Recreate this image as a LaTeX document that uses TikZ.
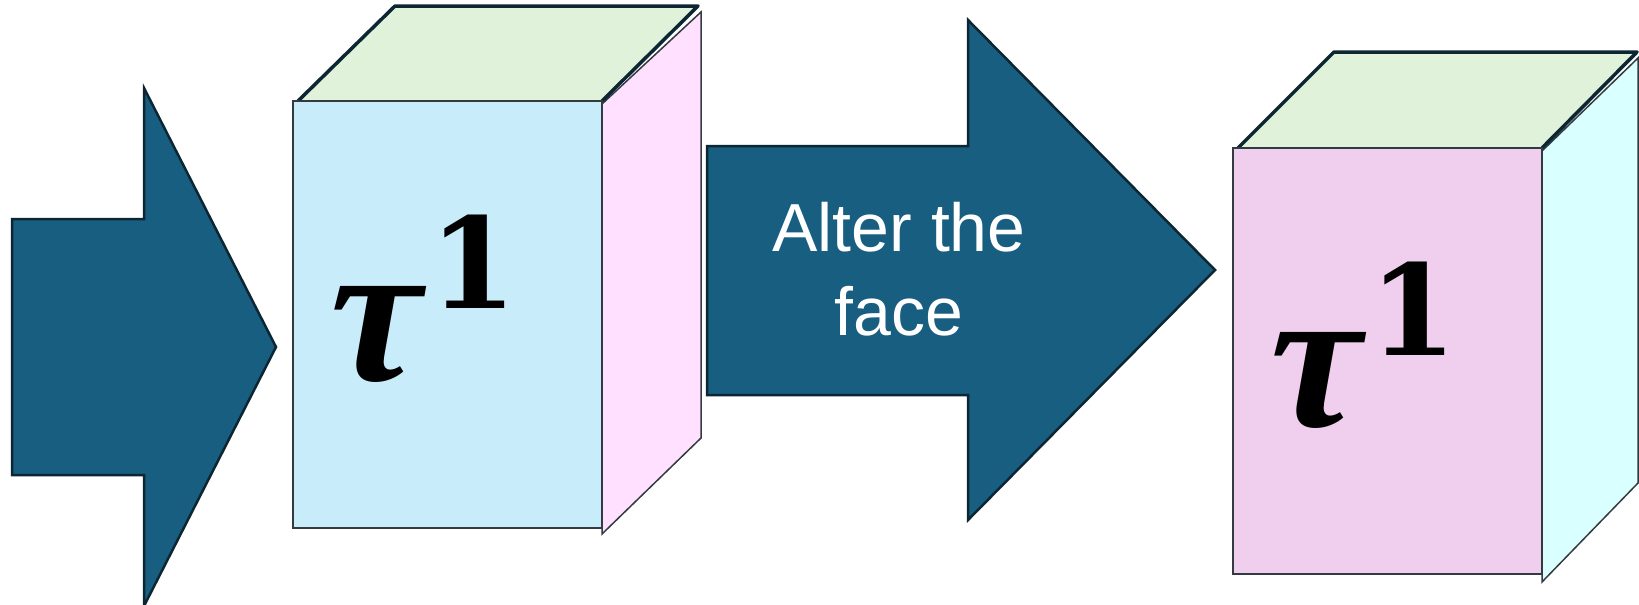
\documentclass[tikz,border=0pt]{standalone}
\usepackage{fontspec}
\setmainfont{Liberation Sans}
\newfontfamily\taufont{Liberation Serif}
\newfontfamily\onefont{DejaVu Serif}
\definecolor{arrowfill}{HTML}{175E80}
\definecolor{arrowline}{HTML}{0D2633}
\definecolor{topgreen}{HTML}{E0F3DA}
\definecolor{frontblue}{HTML}{C9ECFA}
\definecolor{sidepink}{HTML}{FFE0FF}
\definecolor{frontpink}{HTML}{F0CFEE}
\definecolor{sidecyan}{HTML}{D9FFFF}
\definecolor{edgegray}{HTML}{333B40}
\tikzset{
  bigarrow/.style={fill=arrowfill, draw=arrowline, line width=2.5pt, line join=miter},
  topface/.style={draw=arrowline, line width=3.5pt, line join=round},
  sideface/.style={draw=edgegray, line width=1.5pt},
  frontface/.style={draw=edgegray, line width=1.5pt},
  taulbl/.style={anchor=base, inner sep=0pt, font=\taufont\bfseries\itshape\fontsize{205}{205}\selectfont},
  onelbl/.style={anchor=base, inner sep=0pt, font=\onefont\bfseries\fontsize{126}{126}\selectfont},
  arrowtxt/.style={anchor=base, inner sep=0pt, text=white, font=\fontsize{68}{68}\selectfont}
}
\begin{document}
\begin{tikzpicture}[x=1pt,y=-1pt]
\useasboundingbox (0,0) rectangle (1639,605);
\fill[white] (0,0) rectangle (1639,605);
% left arrow
\draw[bigarrow] (12,219) -- (144,219) -- (144,88) -- (276,347) -- (144,606) -- (144,475) -- (12,475) -- cycle;
% cube 1
\draw[sideface, fill=sidepink] (602,104) -- (701,12) -- (701,438) -- (602,534) -- cycle;
\fill[topgreen] (298,101) -- (395,6) -- (698,6) -- (602,101) -- cycle;
\draw[topface] (298,101) -- (395,6) -- (698,6) -- (602,101);
\draw[frontface, fill=frontblue] (293,101) rectangle (602,528);
\node[taulbl] (tauA) at (376,380) {τ};
\node[onelbl] (oneA) at (473,308) {1};
% middle arrow
\draw[bigarrow] (707,146) -- (968,146) -- (968,20) -- (1215,270) -- (968,520) -- (968,395) -- (707,395) -- cycle;
\node[arrowtxt] (txtA) at (899,251) {Alter the};
\node[arrowtxt] (txtB) at (899,335) {face};
% cube 2
\draw[sideface, fill=sidecyan] (1542,151) -- (1638,58) -- (1638,483) -- (1542,582) -- cycle;
\fill[topgreen] (1238,148) -- (1334,52) -- (1637,52) -- (1542,148) -- cycle;
\draw[topface] (1238,148) -- (1334,52) -- (1637,52) -- (1542,148);
\draw[frontface, fill=frontpink] (1233,148) rectangle (1542,574);
\node[taulbl] (tauB) at (1316,426) {τ};
\node[onelbl] (oneB) at (1413,355) {1};
\end{tikzpicture}
\end{document}
